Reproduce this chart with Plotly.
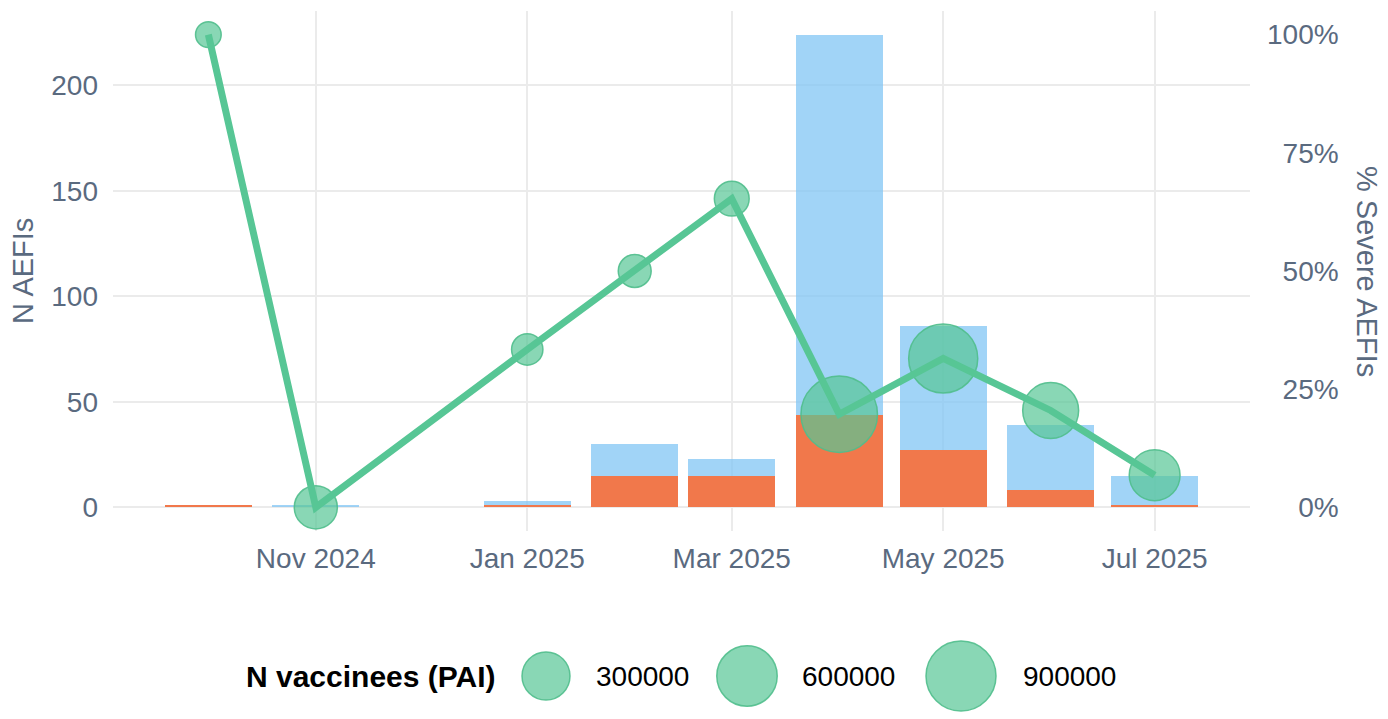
import pandas as pd
import plotly.graph_objects as go

# monthly AEFI counts
months = ["2024-10-01", "2024-11-01", "2025-01-01", "2025-02-01", "2025-03-01",
          "2025-04-01", "2025-05-01", "2025-06-01", "2025-07-01"]
aefi_total = [1, 1, 3, 30, 23, 224, 86, 39, 15]
aefi_severe = [1, 0, 1, 15, 15, 44, 27, 8, 1]
pct_severe = [100, 0, 33.4, 50.0, 65.3, 19.7, 31.5, 20.5, 6.8]
n_vaccinees = [20000, 210000, 60000, 75000, 95000, 1140000, 870000, 480000, 360000]

x_tick_dates = ["2024-11-01", "2025-01-01", "2025-03-01", "2025-05-01", "2025-07-01"]
x_tick_labels = ["Nov 2024", "Jan 2025", "Mar 2025", "May 2025", "Jul 2025"]
y_ticks = [0, 50, 100, 150, 200]
pct_ticks = [0, 25, 50, 75, 100]
legend_values = [300000, 600000, 900000]

# page has an 8px body margin, so lay things out in screen pixels minus that
OFF = 8
W, H = 1388 - OFF, 719 - OFF
BLUE = "rgba(130,198,244,0.75)"
ORANGE = "#F1784B"
GREEN = "#57C695"
GREEN_FILL = "rgba(87,198,149,0.7)"
GREEN_EDGE = "rgba(80,190,140,0.9)"
GREY_TXT = "#5A6A7F"
GRID = "#EBEBEB"
FONT = "Liberation Sans, Arial, Helvetica, sans-serif"


def fx(p):
    return (p - OFF) / W


def fy(p):
    return 1 - (p - OFF) / H


def dot_size(n):
    # diameter in px, area-style scaling like ggplot's scale_size
    return 17.9 + 0.0549 * n ** 0.5


# bar width = 0.9 * smallest month gap (28 days), like geom_col on dates
day_ms = 86400000
bar_days = 0.9 * 28
dates = pd.to_datetime(months)
x_lo = dates.min() - pd.Timedelta(days=bar_days / 2)
x_hi = dates.max() + pd.Timedelta(days=bar_days / 2)
pad = (x_hi - x_lo) * 0.05
x_range = [x_lo - pad, x_hi + pad]

y_max = max(aefi_total)
y_range = [-0.05 * y_max, 1.05 * y_max]

fig = go.Figure()

fig.add_bar(x=months, y=aefi_total, width=bar_days * day_ms,
            marker=dict(color=BLUE, line=dict(width=0)), name="All AEFIs")
fig.add_bar(x=months, y=aefi_severe, width=bar_days * day_ms,
            marker=dict(color=ORANGE, line=dict(width=0)), name="Severe AEFIs")

# opacity=1 explicitly: plotly otherwise fades bubble markers to 0.7
fig.add_scatter(x=months, y=[p / 100 for p in pct_severe], yaxis="y2", mode="markers",
                marker=dict(size=[dot_size(n) for n in n_vaccinees], color=GREEN_FILL,
                            opacity=1, line=dict(color=GREEN_EDGE, width=1.5)),
                name="N vaccinees")
fig.add_scatter(x=months, y=[p / 100 for p in pct_severe], yaxis="y2", mode="lines",
                line=dict(color=GREEN, width=7), name="% severe")

# size legend drawn on a hidden pixel-scaled axis below the plot
# (x3 / y3 use screen pixels; y3 value = 719 - screen y)
legend_x = [546, 747, 961]
legend_text_x = [594, 800, 1021]
legend_y = 719 - 676
fig.add_scatter(x=legend_x, y=[legend_y] * len(legend_values), xaxis="x3", yaxis="y3",
                mode="markers",
                marker=dict(size=[dot_size(v) for v in legend_values], color=GREEN_FILL,
                            opacity=1, line=dict(color=GREEN_EDGE, width=1.5)),
                hoverinfo="skip")

annotations = [
    dict(text="N AEFIs", x=fx(23), y=fy(271), xref="paper", yref="paper",
         xanchor="center", yanchor="middle", borderpad=0,
         textangle=-90, showarrow=False, font=dict(size=29, color=GREY_TXT)),
    dict(text="% Severe AEFIs", x=fx(1367), y=fy(271), xref="paper", yref="paper",
         xanchor="center", yanchor="middle", borderpad=0,
         textangle=90, showarrow=False, font=dict(size=29, color=GREY_TXT)),
    dict(text="<b>N vaccinees (PAI)</b>", x=244, y=legend_y, xref="x3", yref="y3",
         xanchor="left", yanchor="middle", showarrow=False,
         font=dict(size=30, color="black")),
]
for xt, v in zip(legend_text_x, legend_values):
    annotations.append(dict(text=str(v), x=xt, y=legend_y, xref="x3", yref="y3",
                            xanchor="left", yanchor="middle", showarrow=False,
                            font=dict(size=28, color="black")))

# pad right-axis labels with figure spaces so they line up on the right
pct_text = [(f"{p}%").rjust(4, "\u2007") for p in pct_ticks]

tick_font = dict(size=28, color=GREY_TXT)
fig.update_layout(
    width=W, height=H,
    margin=dict(l=0, r=0, t=0, b=0),
    paper_bgcolor="white", plot_bgcolor="white",
    font=dict(family=FONT),
    barmode="overlay",
    bargap=0,
    showlegend=False,
    xaxis=dict(type="date", domain=[fx(113), fx(1250)], range=x_range,
               tickvals=x_tick_dates, ticktext=x_tick_labels,
               showgrid=True, gridcolor=GRID, gridwidth=2, zeroline=False,
               showline=False, ticks="", tickfont=tick_font, ticklabelstandoff=8,
               automargin=False, anchor="y"),
    yaxis=dict(domain=[fy(531), fy(11)], range=y_range, tickvals=y_ticks,
               showgrid=True, gridcolor=GRID, gridwidth=2, zeroline=False,
               showline=False, ticks="", tickfont=tick_font, ticklabelstandoff=14,
               automargin=False),
    yaxis2=dict(overlaying="y", side="right", range=[-0.05, 1.05],
                tickvals=[p / 100 for p in pct_ticks], ticktext=pct_text,
                showgrid=False, zeroline=False, showline=False, ticks="",
                tickfont=tick_font, ticklabelstandoff=16, automargin=False),
    xaxis3=dict(domain=[fx(OFF), 1], range=[OFF, 1388], visible=False, anchor="y3"),
    yaxis3=dict(domain=[0, fy(619)], range=[0, 100], visible=False, anchor="x3"),
    annotations=annotations,
)

fig.write_html("out.html")
